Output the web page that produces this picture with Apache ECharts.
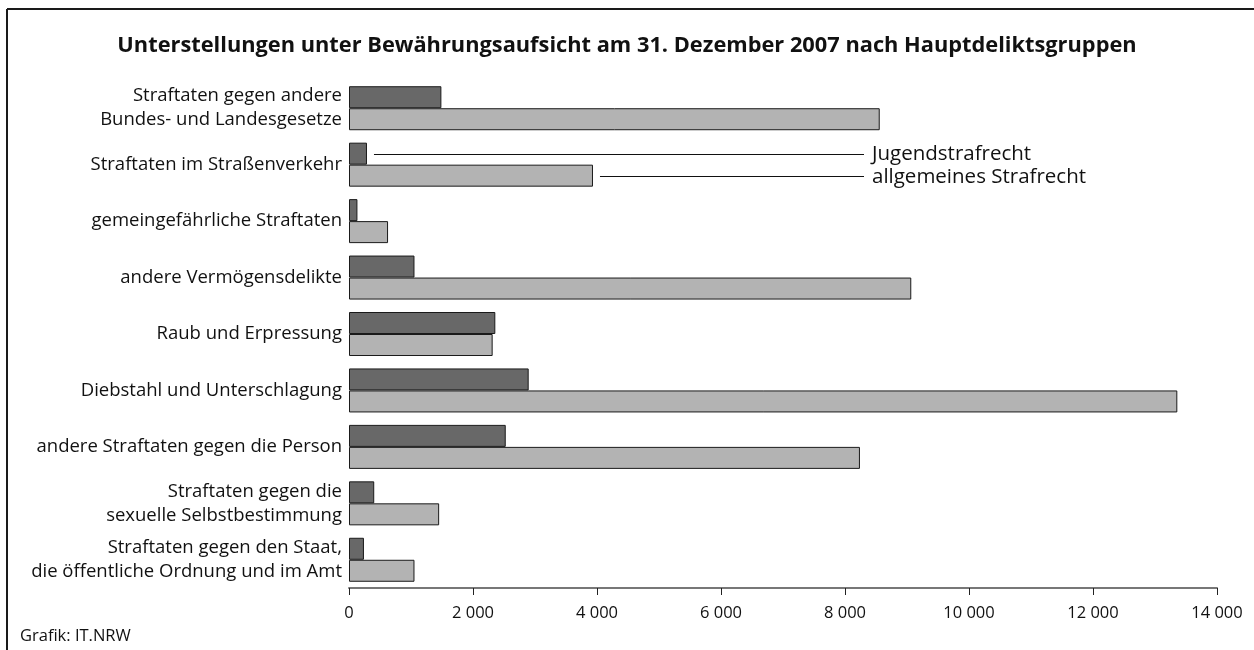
<!DOCTYPE html>
<html>
<head>
<meta charset="utf-8">
<script src="https://cdn.jsdelivr.net/npm/echarts@6/dist/echarts.min.js"></script>
<style>
  html, body { margin: 0; padding: 0; background: #fff; }
  #chart { width: 1254px; height: 650px; }
</style>
</head>
<body>
<div id="chart"></div>
<script>
// Hauptdeliktsgruppen, von oben nach unten
const categories = [
  'Straftaten gegen andere\nBundes- und Landesgesetze',
  'Straftaten im Straßenverkehr',
  'gemeingefährliche Straftaten',
  'andere Vermögensdelikte',
  'Raub und Erpressung',
  'Diebstahl und Unterschlagung',
  'andere Straftaten gegen die Person',
  'Straftaten gegen die\nsexuelle Selbstbestimmung',
  'Straftaten gegen den Staat,\ndie öffentliche Ordnung und im Amt'
]
const jugendstrafrecht = [1490, 290, 136, 1056, 2360, 2898, 2528, 407, 241]
const allgemeinesStrafrecht = [8560, 3935, 630, 9069, 2317, 13360, 8241, 1454, 1056]
const seriesNames = ['Jugendstrafrecht', 'allgemeines Strafrecht']

const FONT = '"Open Sans", "Noto Sans", sans-serif'
const chart = echarts.init(document.getElementById('chart'), null, { renderer: 'canvas' })

const fmt = (v) => String(v).replace(/\B(?=(\d{3})+(?!\d))/g, ' ')

chart.setOption({
  animation: false,
  backgroundColor: '#fff',
  title: {
    text: 'Unterstellungen unter Bewährungsaufsicht am 31. Dezember 2007 nach Hauptdeliktsgruppen',
    left: 'center',
    top: 30,
    textStyle: { fontFamily: FONT, fontSize: 21.8, fontWeight: 'bold', color: '#111' }
  },
  grid: { left: 349, right: 37, top: 80, bottom: 62, containLabel: false },
  xAxis: {
    type: 'value',
    min: 0,
    max: 14000,
    interval: 2000,
    axisLine: { show: true, lineStyle: { color: '#777', width: 2 } },
    axisTick: { show: true, length: 7, lineStyle: { color: '#222', width: 1 } },
    axisLabel: { formatter: fmt, margin: 17, fontFamily: FONT, fontSize: 16.5, color: '#111' },
    splitLine: { show: false }
  },
  yAxis: {
    type: 'category',
    inverse: true,
    data: categories,
    axisLine: { show: false },
    axisTick: { show: false },
    axisLabel: { margin: 7, fontFamily: FONT, fontSize: 18.5, lineHeight: 24, color: '#111' }
  },
  series: [
    {
      name: seriesNames[0],
      type: 'bar',
      data: jugendstrafrecht,
      barWidth: 22,
      barGap: '0%',
      itemStyle: { color: '#686868', borderColor: '#1a1a1a', borderWidth: 1 }
    },
    {
      name: seriesNames[1],
      type: 'bar',
      data: allgemeinesStrafrecht,
      barWidth: 22,
      barGap: '0%',
      itemStyle: { color: '#b3b3b3', borderColor: '#1a1a1a', borderWidth: 1 }
    }
  ]
})

// Beschriftung mit Hinweislinien an der zweiten Kategorie
const layoutJ = chart.getModel().getSeriesByIndex(0).getData().getItemLayout(1)
const layoutA = chart.getModel().getSeriesByIndex(1).getData().getItemLayout(1)
const lineEnd = 864
const leader = (lay, name, dy) => {
  const y = Math.round(lay.y + lay.height / 2) + 0.5
  return [
    {
      type: 'line',
      shape: { x1: lay.x + lay.width + 7, y1: y, x2: lineEnd, y2: y },
      style: { stroke: '#111', lineWidth: 1 }
    },
    {
      type: 'text',
      x: lineEnd + 8,
      y: y + dy,
      style: { text: name, fontFamily: FONT, fontSize: 20.5, fill: '#111', textVerticalAlign: 'middle' }
    }
  ]
}

chart.setOption({
  graphic: [
    { type: 'line', shape: { x1: 7, y1: 9, x2: 1254, y2: 9 }, style: { stroke: '#1a1a1a', lineWidth: 2 } },
    { type: 'line', shape: { x1: 7, y1: 9, x2: 7, y2: 650 }, style: { stroke: '#1a1a1a', lineWidth: 2 } },
    ...leader(layoutJ, seriesNames[0], 0),
    ...leader(layoutA, seriesNames[1], 1),
    {
      type: 'text',
      x: 20,
      y: 636,
      style: { text: 'Grafik: IT.NRW', fontFamily: FONT, fontSize: 16.5, fill: '#111', textVerticalAlign: 'middle' }
    }
  ]
})
</script>
</body>
</html>
